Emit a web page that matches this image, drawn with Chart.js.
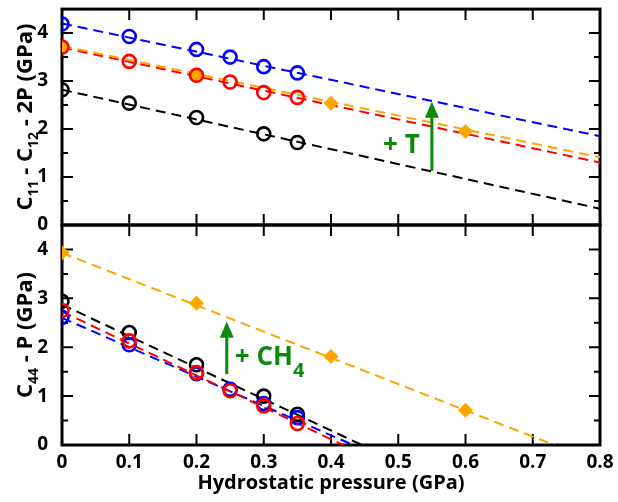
<!DOCTYPE html>
<html>
<head>
<meta charset="utf-8">
<script src="https://cdn.jsdelivr.net/npm/chart.js@4.4.1/dist/chart.umd.min.js"></script>
<style>
    html, body { margin: 0; padding: 0; background: #fff; }
    #wrap { position: relative; width: 618px; height: 502px; }
    #c1 { position: absolute; left: 0; top: 0; }
    #c2 { position: absolute; left: 0; top: 210px; }
</style>
</head>
<body>
<div id="wrap">
    <canvas id="c1" width="618" height="240"></canvas>
    <canvas id="c2" width="618" height="292"></canvas>
</div>
<script>
// pressures (GPa)
const pressure = [0, 0.1, 0.2, 0.25, 0.3, 0.35]
const pressureBlack = [0, 0.1, 0.2, 0.3, 0.35]
const pressureCH4 = [0, 0.2, 0.4, 0.6]

// C11 - C12 - 2P (GPa), top panel
const topBlue = [4.19, 3.93, 3.66, 3.50, 3.30, 3.17]
const topRed = [3.71, 3.41, 3.12, 2.98, 2.76, 2.66]
const topBlack = [2.82, 2.54, 2.24, 1.90, 1.72]
const topOrange = [3.71, 3.12, 2.54, 1.95]

// C44 - P (GPa), bottom panel
const botBlue = [2.61, 2.05, 1.46, 1.14, 0.85, 0.56]
const botRed = [2.75, 2.13, 1.48, 1.11, 0.80, 0.44]
const botBlack = [2.94, 2.30, 1.64, 1.00, 0.63]
const botOrange = [3.93, 2.90, 1.81, 0.71]

// linear fits (end points)
const fitTopX = [0, 0.8]
const fitTopBlue = [4.20, 1.85]
const fitTopRed = [3.70, 1.30]
const fitTopOrange = [3.73, 1.41]
const fitTopBlack = [2.82, 0.34]

const fitBotBlueX = [0, 0.433]
const fitBotBlue = [2.60, 0]
const fitBotRedX = [0, 0.418]
const fitBotRed = [2.73, 0]
const fitBotBlackX = [0, 0.446]
const fitBotBlack = [2.87, 0]
const fitBotOrangeX = [0, 0.732]
const fitBotOrange = [3.93, 0]

// tick labels
const xTicks = ['0', '0.1', '0.2', '0.3', '0.4', '0.5', '0.6', '0.7', '0.8']
const yTicks = ['0', '1', '2', '3', '4']

const FONT = '"Open Sans", "DejaVu Sans", sans-serif'
const GREEN = '#0a8a0a'
Chart.defaults.font.family = FONT
Chart.defaults.color = '#000'

const isWhole = v => Math.abs(v - Math.round(v)) < 1e-6

const toPoints = (xs, ys) => xs.map((x, i) => ({x: x, y: ys[i]}))

const markers = (xs, ys, color, diamond) => ({
    data: toPoints(xs, ys),
    showLine: false,
    pointStyle: diamond ? 'rectRot' : 'circle',
    pointRadius: diamond ? 7.5 : 6.5,
    pointBorderWidth: diamond ? 0 : 2.6,
    pointBorderColor: color,
    pointBackgroundColor: diamond ? color : 'rgba(0,0,0,0)',
    order: 0
})

const fit = (xs, ys, color) => ({
    data: toPoints(xs, ys),
    showLine: true,
    borderColor: color,
    borderWidth: 2,
    borderDash: [10, 6],
    pointRadius: 0,
    order: 1
})

// draws a run of text pieces, some of them as subscripts
const drawRich = (ctx, parts, x0, y0, align) => {
    let total = 0
    const widths = parts.map(p => {
        ctx.font = `bold ${p.size}px ${FONT}`
        const w = ctx.measureText(p.t).width
        total += w
        return w
    })
    let cx = align === 'center' ? x0 - total / 2 : (align === 'right' ? x0 - total : x0)
    parts.forEach((p, i) => {
        ctx.font = `bold ${p.size}px ${FONT}`
        ctx.fillText(p.t, cx, y0 + (p.drop || 0))
        cx += widths[i]
    })
}

const deco = {
    id: 'panelDeco',
    beforeDatasetsDraw(chart, args, opts) {
        const {ctx, chartArea: a} = chart
        const x = chart.scales.x, y = chart.scales.y
        ctx.save()
        ctx.strokeStyle = '#000'
        ctx.lineWidth = 2
        ctx.beginPath()
        for (const t of x.ticks) {
            const px = x.getPixelForValue(t.value)
            ctx.moveTo(px, a.top); ctx.lineTo(px, a.top + 11)
            ctx.moveTo(px, a.bottom); ctx.lineTo(px, a.bottom - 11)
        }
        for (const t of y.ticks) {
            const py = y.getPixelForValue(t.value)
            const len = isWhole(t.value) ? 11 : 6
            ctx.moveTo(a.left, py); ctx.lineTo(a.left + len, py)
            ctx.moveTo(a.right, py); ctx.lineTo(a.right - len, py)
        }
        ctx.stroke()
        ctx.lineWidth = 3
        ctx.strokeRect(a.left, a.top, a.right - a.left, a.bottom - a.top)
        ctx.restore()
    },
    afterDatasetsDraw(chart, args, opts) {
        const {ctx} = chart
        const x = chart.scales.x, y = chart.scales.y
        ctx.save()
        // arrow
        const ax = x.getPixelForValue(opts.arrow.x)
        const y0 = y.getPixelForValue(opts.arrow.from)
        const y1 = y.getPixelForValue(opts.arrow.to)
        ctx.strokeStyle = GREEN
        ctx.fillStyle = GREEN
        ctx.lineWidth = 3
        ctx.beginPath()
        ctx.moveTo(ax, y0); ctx.lineTo(ax, y1 + 12)
        ctx.stroke()
        ctx.beginPath()
        ctx.moveTo(ax, y1)
        ctx.lineTo(ax - 7, y1 + 16)
        ctx.lineTo(ax + 7, y1 + 16)
        ctx.closePath()
        ctx.fill()
        // label
        ctx.textBaseline = 'alphabetic'
        drawRich(ctx, opts.label.parts, x.getPixelForValue(opts.label.x), y.getPixelForValue(opts.label.y), opts.label.align)
        ctx.restore()
    },
    afterDraw(chart, args, opts) {
        const {ctx, chartArea: a} = chart
        ctx.save()
        ctx.fillStyle = '#000'
        ctx.textBaseline = 'alphabetic'
        ctx.translate(32, (a.top + a.bottom) / 2)
        ctx.rotate(-Math.PI / 2)
        drawRich(ctx, opts.yTitle, 0, 0, 'center')
        ctx.restore()
        if (opts.xTitle) {
            ctx.save()
            ctx.fillStyle = '#000'
            ctx.textBaseline = 'alphabetic'
            ctx.font = `bold 20px ${FONT}`
            ctx.textAlign = 'center'
            ctx.fillText(opts.xTitle, (a.left + a.right) / 2, a.bottom + 44)
            ctx.restore()
        }
    }
}

const xScale = (showLabels) => ({
    type: 'linear',
    min: 0,
    max: 0.8,
    grid: {display: false},
    border: {display: false},
    ticks: {
        display: showLabels,
        stepSize: 0.1,
        autoSkip: false,
        maxRotation: 0,
        padding: -2,
        font: {size: 19, weight: 'bold'},
        callback: (v, i) => xTicks[i]
    },
    afterFit: s => {
        s.height = showLabels ? 57 : 0
        s.paddingLeft = 0
        s.paddingRight = 0
    }
})

const yScale = {
    type: 'linear',
    min: 0,
    max: 4.5,
    grid: {display: false},
    border: {display: false},
    ticks: {
        stepSize: 0.5,
        autoSkip: false,
        padding: 6,
        font: {size: 19, weight: 'bold'},
        callback: v => isWhole(v) ? yTicks[Math.round(v)] : ''
    },
    afterFit: s => {
        s.width = 62
        s.paddingTop = 0
        s.paddingBottom = 0
    }
}

new Chart(document.getElementById('c1'), {
    type: 'scatter',
    data: {
        datasets: [
            markers(pressure, topRed, '#ff0000', false),
            markers(pressure, topBlue, '#0000ff', false),
            markers(pressureBlack, topBlack, '#000000', false),
            markers(pressureCH4, topOrange, '#ffa500', true),
            fit(fitTopX, fitTopOrange, '#ffa500'),
            fit(fitTopX, fitTopRed, '#ff0000'),
            fit(fitTopX, fitTopBlue, '#0000ff'),
            fit(fitTopX, fitTopBlack, '#000000')
        ]
    },
    options: {
        responsive: false,
        animation: false,
        events: [],
        layout: {padding: {left: 0, top: 4, right: 18, bottom: 15}},
        scales: {x: xScale(false), y: yScale},
        plugins: {
            legend: {display: false},
            tooltip: {enabled: false},
            panelDeco: {
                yTitle: [
                    {t: 'C', size: 22}, {t: '11', size: 14, drop: 6},
                    {t: ' - C', size: 22}, {t: '12', size: 14, drop: 6},
                    {t: ' - 2P (GPa)', size: 22}
                ],
                arrow: {x: 0.55, from: 1.13, to: 2.57},
                label: {x: 0.532, y: 1.5, align: 'right', parts: [{t: '+ T', size: 26}]}
            }
        }
    },
    plugins: [deco]
})

new Chart(document.getElementById('c2'), {
    type: 'scatter',
    data: {
        datasets: [
            markers(pressure, botRed, '#ff0000', false),
            markers(pressure, botBlue, '#0000ff', false),
            markers(pressureBlack, botBlack, '#000000', false),
            markers(pressureCH4, botOrange, '#ffa500', true),
            fit(fitBotRedX, fitBotRed, '#ff0000'),
            fit(fitBotBlueX, fitBotBlue, '#0000ff'),
            fit(fitBotBlackX, fitBotBlack, '#000000'),
            fit(fitBotOrangeX, fitBotOrange, '#ffa500')
        ]
    },
    options: {
        responsive: false,
        animation: false,
        events: [],
        layout: {padding: {left: 0, top: 15, right: 18, bottom: 0}},
        scales: {x: xScale(true), y: yScale},
        plugins: {
            legend: {display: false},
            tooltip: {enabled: false},
            panelDeco: {
                yTitle: [
                    {t: 'C', size: 22}, {t: '44', size: 14, drop: 6},
                    {t: ' - P (GPa)', size: 22}
                ],
                xTitle: 'Hydrostatic pressure (GPa)',
                arrow: {x: 0.245, from: 1.45, to: 2.52},
                label: {x: 0.257, y: 1.64, align: 'left', parts: [
                    {t: '+ CH', size: 26}, {t: '4', size: 20, drop: 12}
                ]}
            }
        }
    },
    plugins: [deco]
})
</script>
</body>
</html>
